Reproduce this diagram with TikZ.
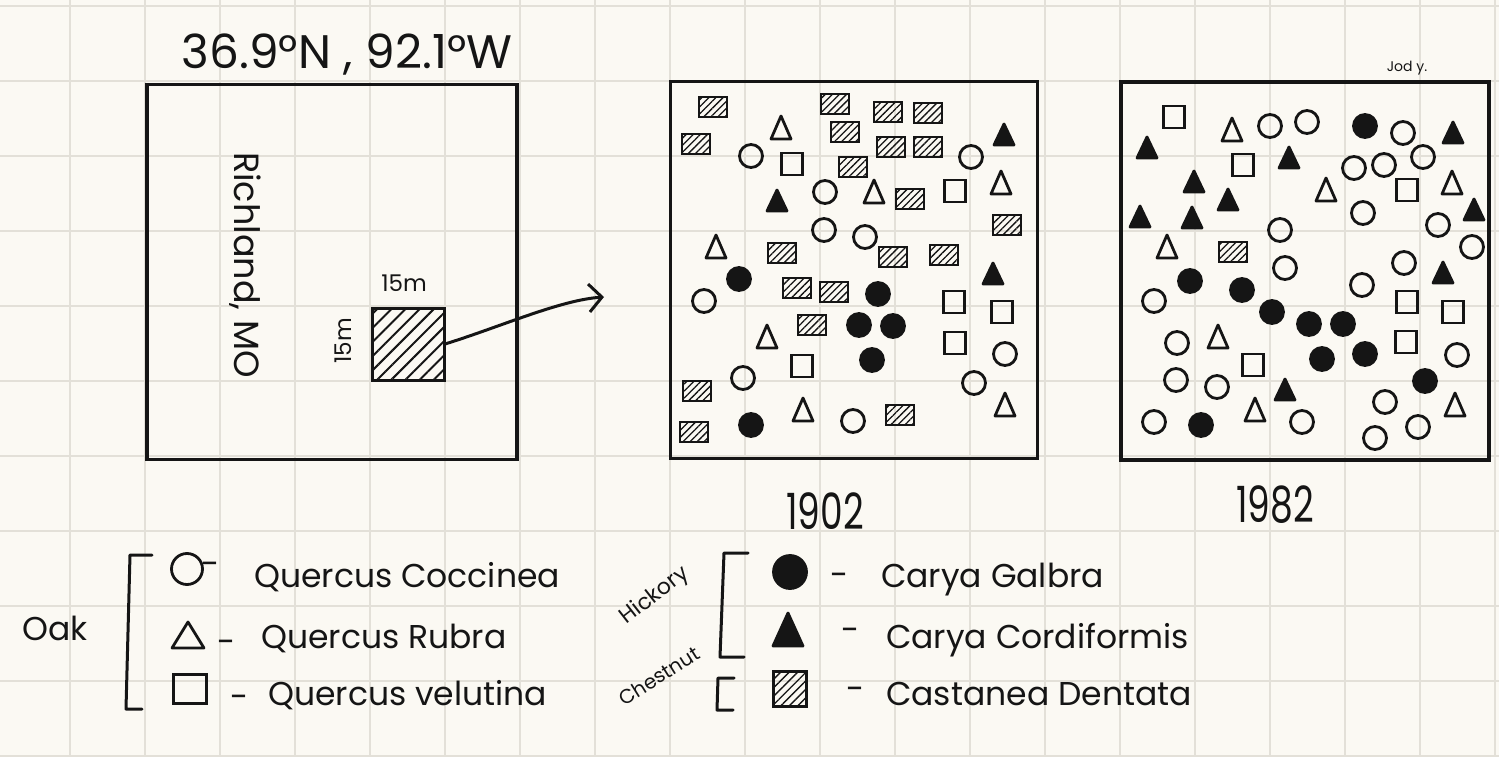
\documentclass[tikz,border=0pt]{standalone}
\usepackage{fontspec}
\setmainfont{Poppins}
\newfontfamily\narrowfont[FakeStretch=0.72]{Poppins}
\usetikzlibrary{shapes.geometric,patterns.meta,arrows.meta}
\definecolor{paper}{HTML}{FBF9F3}
\definecolor{gridc}{HTML}{E3E0D8}
\definecolor{ink}{HTML}{151515}
\tikzset{
  sym/.style={draw=ink, line width=2.8pt, inner sep=0pt, outer sep=0pt},
  oc/.style={sym, circle, minimum size=23pt},
  fc/.style={oc, fill=ink},
  otrip/.pic={\draw[draw=ink, line width=2.8pt, line join=round] (-10,11) -- (0,-12) -- (10,11) -- cycle;},
  ftrip/.pic={\draw[draw=ink, fill=ink, line width=2.8pt, line join=round] (-10,10) -- (0,-11) -- (10,10) -- cycle;},
  osq/.style={sym, rectangle, minimum width=21pt, minimum height=22pt},
  hsq/.style={draw=ink, line width=2.5pt, rectangle, inner sep=0pt, minimum width=28pt, minimum height=20pt,
    pattern={Lines[angle=45,distance=5pt,line width=1.3pt]}, pattern color=ink},
  frame/.style={draw=ink, line width=3.8pt, rectangle, inner sep=0pt},
  bracketline/.style={draw=ink, line width=3pt, line cap=round, line join=round},
  gridline/.style={draw=gridc, line width=1.3pt},
  lfont/.style={text=ink, inner sep=0pt, font=\fontsize{33}{33}\selectfont},
  arrowline/.style={draw=ink, line width=3pt, -{Straight Barb[length=13pt,width=28pt,line width=3pt]}}
}
\begin{document}
\begin{tikzpicture}[x=1pt,y=-1pt]
\useasboundingbox (0,0) rectangle (1499,757);
\fill[paper] (0,0) rectangle (1499,757);
% grid
\foreach \gx in {70,145,...,1495} \draw[gridline] (\gx,0) -- (\gx,757);
\foreach \gy in {6,81,...,756} \draw[gridline] (0,\gy) -- (1499,\gy);

% left map
\node[text=ink, inner sep=0pt, font=\fontsize{47}{47}\selectfont] (title) at (347,55) {36.9°N , 92.1°W};
\node[frame, minimum width=370pt, minimum height=375pt] (map) at (332,272) {};
\node[text=ink, inner sep=0pt, rotate=-90, font=\fontsize{35}{35}\selectfont] (richland) at (245,265) {Richland, MO};
\node[draw=ink, line width=3pt, inner sep=0pt, minimum width=72pt, minimum height=72pt,
  pattern={Lines[angle=45,distance=10pt,line width=2pt]}, pattern color=ink] (plot) at (408,344) {};
\node[text=ink, inner sep=0pt, font=\fontsize{23}{23}\selectfont] (wlabel) at (404,283) {15m};
\node[text=ink, inner sep=0pt, rotate=90, font=\fontsize{23}{23}\selectfont] (hlabel) at (343,341) {15m};
\coordinate (tip) at (604,297);
\draw[arrowline] (plot.east) .. controls (500,327) and (560,300) .. (tip);

% plot boxes
\node[frame, minimum width=367pt, minimum height=377pt] (box02) at (854,270) {};
\node[frame, minimum width=368pt, minimum height=378pt] (box82) at (1305,271) {};
\node[text=ink, inner sep=0pt, font=\narrowfont\fontsize{50}{50}\selectfont] (y02) at (825,511) {1902};
\node[text=ink, inner sep=0pt, font=\narrowfont\fontsize{50}{50}\selectfont] (y82) at (1275,505) {1982};
\node[text=ink, inner sep=0pt, font=\fontsize{14}{14}\selectfont] (author) at (1407,68) {Jod y.};

% 1902 symbols
\foreach \x/\y [count=\i] in {713/107,696/144,835/104,888/112,928/113,845/132,891/147,928/147,853/167,910/199,1007/225,782/253,893/257,944/255,797/288,834/292,812/325,697/391,694/432,900/415}
  \node[hsq] (ha-\i) at (\x,\y) {};
\foreach \x/\y [count=\i] in {781/128,874/192,1001/183,716/247,767/337,803/410,1005/405}
  \pic (ta-\i) at (\x,\y) {otrip};
\foreach \x/\y [count=\i] in {1004/135,777/201,993/274}
  \pic (fta-\i) at (\x,\y) {ftrip};
\foreach \x/\y [count=\i] in {751/156,825/192,971/157,824/230,865/237,704/301,743/378,1005/354,974/383,853/421}
  \node[oc] (ca-\i) at (\x,\y) {};
\foreach \x/\y [count=\i] in {792/164,955/191,954/302,1002/312,955/343,802/366}
  \node[osq] (sa-\i) at (\x,\y) {};
\foreach \x/\y [count=\i] in {739/279,878/294,859/325,893/326,872/360,751/425}
  \node[fc] (fca-\i) at (\x,\y) {};

% 1982 symbols
\node[hsq] (hb-1) at (1233,252) {};
\foreach \x/\y [count=\i] in {1174/117,1243/165,1407/190,1407/302,1453/312,1406/342,1253/365}
  \node[osq] (sb-\i) at (\x,\y) {};
\foreach \x/\y [count=\i] in {1232/130,1326/190,1452/183,1167/247,1218/337,1255/410,1455/405}
  \pic (tb-\i) at (\x,\y) {otrip};
\foreach \x/\y [count=\i] in {1147/148,1289/158,1194/182,1228/200,1140/217,1192/218,1474/210,1443/273,1285/390,1453/133}
  \pic (ftb-\i) at (\x,\y) {ftrip};
\foreach \x/\y [count=\i] in {1365/126,1190/281,1242/290,1272/312,1309/324,1343/324,1322/359,1365/354,1425/381,1201/425}
  \node[fc] (fcb-\i) at (\x,\y) {};
\foreach \x/\y [count=\i] in {1270/126,1307/122,1403/133,1354/168,1384/165,1423/157,1363/213,1438/225,1280/230,1472/247,1285/268,1404/263,1362/285,1154/301,1177/343,1457/355,1176/380,1217/387,1385/402,1154/422,1302/422,1418/427,1375/438}
  \node[oc] (cb-\i) at (\x,\y) {};

% legend
\node[lfont] (oak) at (55,628) {Oak};
\draw[bracketline] (152,555) -- (130,555) -- (126,709) -- (142,709);
\node[sym, circle, minimum size=31pt] (lc) at (187,569) {};
\draw[draw=ink, line width=2.8pt, line join=round] (172,648) -- (188,622) -- (204,648) -- cycle;
\node[sym, rectangle, minimum width=33pt, minimum height=29pt] (ls) at (190,689) {};
\node[lfont] (d1) at (211,569) {-};
\node[lfont] (d2) at (227,647) {-};
\node[lfont] (d3) at (240,702) {-};
\node[lfont, anchor=base west] (t1) at (254,587) {Quercus Coccinea};
\node[lfont, anchor=base west] (t2) at (261,648) {Quercus Rubra};
\node[lfont, anchor=base west] (t3) at (268,705) {Quercus velutina};

\node[text=ink, inner sep=0pt, rotate=38, font=\fontsize{22}{22}\selectfont] (hick) at (655,596) {Hickory};
\node[text=ink, inner sep=0pt, rotate=32, font=\fontsize{20}{20}\selectfont] (chest) at (659,676) {Chestnut};
\draw[bracketline] (748,553) -- (724,553) -- (720,657) -- (744,657);
\draw[bracketline] (734,678) -- (718,678) -- (717,710) -- (733,710);
\node[sym, circle, minimum size=33pt, fill=ink] (lfc) at (790,572) {};
\draw[draw=ink, fill=ink, line width=2.8pt, line join=round] (773,646) -- (788,613) -- (803,646) -- cycle;
\node[draw=ink, line width=2.6pt, rectangle, inner sep=0pt, minimum width=33pt, minimum height=35pt,
  pattern={Lines[angle=45,distance=6pt,line width=1.4pt]}, pattern color=ink] (lhs) at (790,689) {};
\node[lfont] (d4) at (840,580) {-};
\node[lfont] (d5) at (851,635) {-};
\node[lfont] (d6) at (856,694) {-};
\node[lfont, anchor=base west] (t4) at (881,587) {Carya Galbra};
\node[lfont, anchor=base west] (t5) at (886,648) {Carya Cordiformis};
\node[lfont, anchor=base west] (t6) at (886,705) {Castanea Dentata};
\end{tikzpicture}
\end{document}
